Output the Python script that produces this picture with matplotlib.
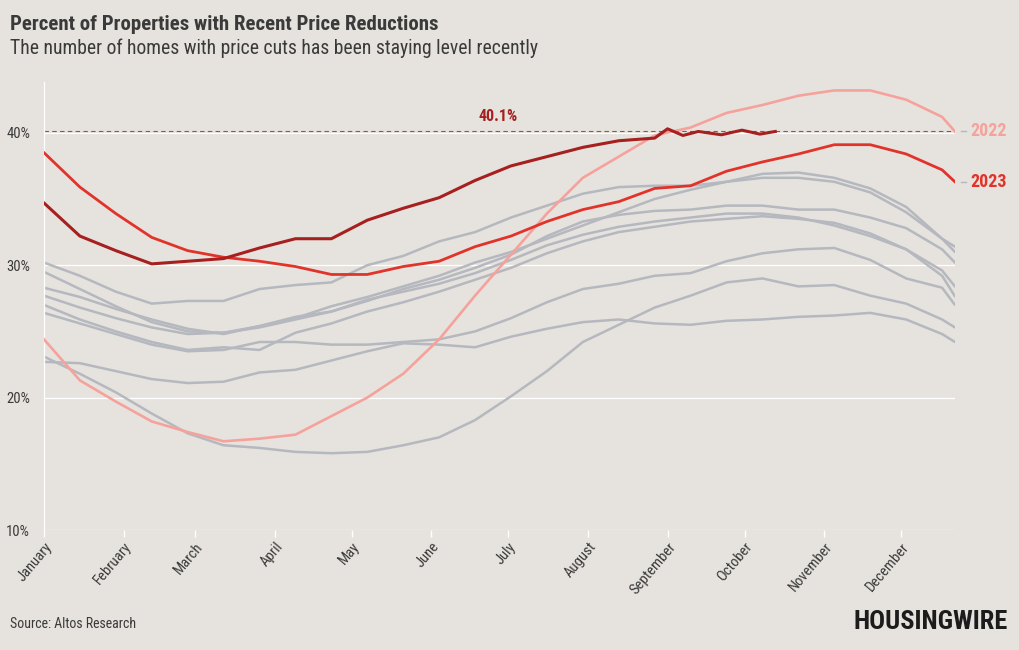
import matplotlib
matplotlib.use("Agg")
import matplotlib.pyplot as plt
from matplotlib import font_manager

# --- dados (dia do ano, % de imóveis com redução de preço) ---
dias = [0, 14, 28, 42, 56, 70, 84, 98, 112, 126, 140, 154, 168, 182, 196,
        210, 224, 238, 252, 266, 280, 294, 308, 322, 336, 350, 355]

cinza_a = [30.2, 29.2, 28.0, 27.1, 27.3, 27.3, 28.2, 28.5, 28.7, 30.0, 30.7, 31.8, 32.5, 33.6,
           34.5, 35.4, 35.9, 36.0, 36.0, 36.3, 36.9, 37.0, 36.6, 35.8, 34.4, 32.0, 31.4]
cinza_b = [29.5, 28.2, 26.9, 25.7, 25.0, 24.9, 25.4, 26.0, 26.9, 27.6, 28.4, 29.2, 30.2, 31.0,
           32.0, 33.0, 34.0, 35.0, 35.7, 36.3, 36.6, 36.6, 36.3, 35.5, 34.0, 32.0, 31.0]
cinza_c = [28.3, 27.6, 26.7, 25.9, 25.2, 24.8, 25.4, 26.1, 26.5, 27.3, 28.2, 28.9, 29.8, 30.8,
           32.2, 33.3, 33.8, 34.1, 34.2, 34.5, 34.5, 34.2, 34.2, 33.6, 32.8, 31.2, 30.2]
cinza_d = [27.7, 26.8, 26.0, 25.3, 24.8, 24.9, 25.3, 25.9, 26.5, 27.4, 28.0, 28.6, 29.4, 30.4,
           31.5, 32.3, 32.9, 33.3, 33.6, 33.9, 33.9, 33.6, 33.0, 32.2, 31.2, 29.6, 28.4]
cinza_e = [27.0, 25.9, 25.0, 24.2, 23.6, 23.8, 23.6, 24.9, 25.6, 26.5, 27.2, 28.0, 28.9, 29.8,
           30.9, 31.8, 32.5, 32.9, 33.3, 33.5, 33.7, 33.5, 33.2, 32.4, 31.2, 29.2, 27.65]
cinza_f = [26.4, 25.6, 24.8, 24.0, 23.5, 23.6, 24.2, 24.2, 24.0, 24.0, 24.2, 24.4, 25.0, 26.0,
           27.2, 28.2, 28.6, 29.2, 29.4, 30.3, 30.9, 31.2, 31.3, 30.4, 29.0, 28.3, 27.0]
cinza_g = [23.1, 21.8, 20.4, 18.8, 17.3, 16.4, 16.2, 15.9, 15.8, 15.9, 16.4, 17.0, 18.3, 20.1,
           22.0, 24.2, 25.5, 26.8, 27.7, 28.7, 29.0, 28.4, 28.5, 27.7, 27.1, 25.9, 25.3]
cinza_h = [22.7, 22.6, 22.0, 21.4, 21.1, 21.2, 21.9, 22.1, 22.8, 23.5, 24.1, 24.0, 23.8, 24.6,
           25.2, 25.7, 25.9, 25.6, 25.5, 25.8, 25.9, 26.1, 26.2, 26.4, 25.9, 24.8, 24.2]

anos_2022 = [24.4, 21.3, 19.7, 18.2, 17.4, 16.7, 16.9, 17.2, 18.6, 20.0, 21.8, 24.4, 27.7, 30.8,
             33.9, 36.6, 38.2, 39.8, 40.4, 41.5, 42.1, 42.8, 43.2, 43.2, 42.5, 41.2, 40.1]
anos_2023 = [38.5, 35.9, 33.9, 32.1, 31.1, 30.6, 30.3, 29.9, 29.3, 29.3, 29.9, 30.3, 31.4, 32.2,
             33.3, 34.2, 34.8, 35.8, 36.0, 37.1, 37.8, 38.4, 39.1, 39.1, 38.4, 37.2, 36.3]

dias_2024 = [0, 14, 28, 42, 56, 70, 84, 98, 112, 126, 140, 154, 168, 182, 196,
             210, 224, 238, 243, 249, 255, 264, 272, 279, 285]
anos_2024 = [34.7, 32.2, 31.1, 30.1, 30.3, 30.5, 31.3, 32.0, 32.0, 33.4, 34.3, 35.1, 36.4, 37.5,
             38.2, 38.9, 39.4, 39.6, 40.3, 39.8, 40.1, 39.85, 40.2, 39.9, 40.1]

meses = ["January", "February", "March", "April", "May", "June", "July",
         "August", "September", "October", "November", "December"]
inicio_mes = [0, 31, 59, 90, 120, 151, 181, 212, 243, 273, 304, 334]
yticks = [10, 20, 30, 40]
ultimo_valor = 40.1

# --- estilo ---
FUNDO = "#e6e3de"
CINZA = "#b6b8bf"
ROSA = "#f6a29c"
VERMELHO = "#e2332a"
VINHO = "#a5201f"
TEXTO = "#3a3a3a"

nomes = {f.name for f in font_manager.fontManager.ttflist}
candidatas = ["Roboto Condensed", "Liberation Sans Narrow", "Archivo Narrow",
              "PT Sans Narrow", "Barlow Condensed", "Roboto"]
estreita = next(c for c in candidatas if c in nomes)
plt.rcParams["font.family"] = [estreita, "DejaVu Sans"]

fig = plt.figure(figsize=(10.2, 6.5), dpi=100, facecolor=FUNDO)
ax = fig.add_axes([0.0431, 0.1846, 0.8931, 0.6885])
ax.set_facecolor(FUNDO)

for serie in [cinza_a, cinza_b, cinza_c, cinza_d, cinza_e, cinza_f, cinza_g, cinza_h]:
    ax.plot(dias, serie, color=CINZA, lw=1.8, solid_capstyle="round", zorder=2)

ax.plot(dias, anos_2022, color=ROSA, lw=1.9, zorder=3)
ax.plot(dias, anos_2023, color=VERMELHO, lw=2.0, zorder=4)
ax.plot(dias_2024, anos_2024, color=VINHO, lw=2.2, zorder=5)

# linha de referência do último valor
ax.axhline(ultimo_valor, color="#b2444a", lw=0.8, ls=(0, (4, 3)), zorder=1)
ax.text(177, ultimo_valor + 0.6, f"{ultimo_valor}%", color=VINHO, fontsize=11.5,
        fontweight="bold", ha="center", va="bottom")

# rótulos no fim das linhas
for valor, cor, rotulo in [(anos_2022[-1], ROSA, "2022"), (anos_2023[-1], VERMELHO, "2023")]:
    ax.plot([357.5, 359.5], [valor, valor], color=CINZA, lw=1, clip_on=False)
    ax.text(361, valor, rotulo, color=cor, fontsize=13, fontweight="bold",
            ha="left", va="center", clip_on=False)

ax.set_xlim(0, 355)
ax.set_ylim(10, 43.8)
ax.set_yticks(yticks)
ax.set_yticklabels([f"{v}%" for v in yticks])
ax.set_xticks(inicio_mes)
ax.set_xticklabels(meses, rotation=50, ha="right", rotation_mode="anchor")
ax.tick_params(axis="y", length=0, colors=TEXTO, labelsize=10.5, pad=10)
ax.tick_params(axis="x", length=5, width=1, color="white", labelsize=10.5, pad=2)
for lab in ax.get_xticklabels():
    lab.set_color(TEXTO)

ax.grid(axis="y", color="white", lw=0.9, zorder=0)
for lado in ["top", "right", "bottom"]:
    ax.spines[lado].set_visible(False)
ax.spines["left"].set_color("white")
ax.spines["left"].set_linewidth(0.9)

fig.text(0.0098, 0.962, "Percent of Properties with Recent Price Reductions",
         fontsize=15, fontweight="bold", color=TEXTO, va="center")
fig.text(0.0098, 0.926, "The number of homes with price cuts has been staying level recently",
         fontsize=14.1, color=TEXTO, va="center")
fig.text(0.0098, 0.04, "Source: Altos Research", fontsize=10, color=TEXTO, va="center")
fig.text(0.988, 0.043, "HOUSINGWIRE", fontsize=19, fontweight="heavy", color="#1c1c1c",
         ha="right", va="center")

fig.savefig("out.png", dpi=100, facecolor=FUNDO)
